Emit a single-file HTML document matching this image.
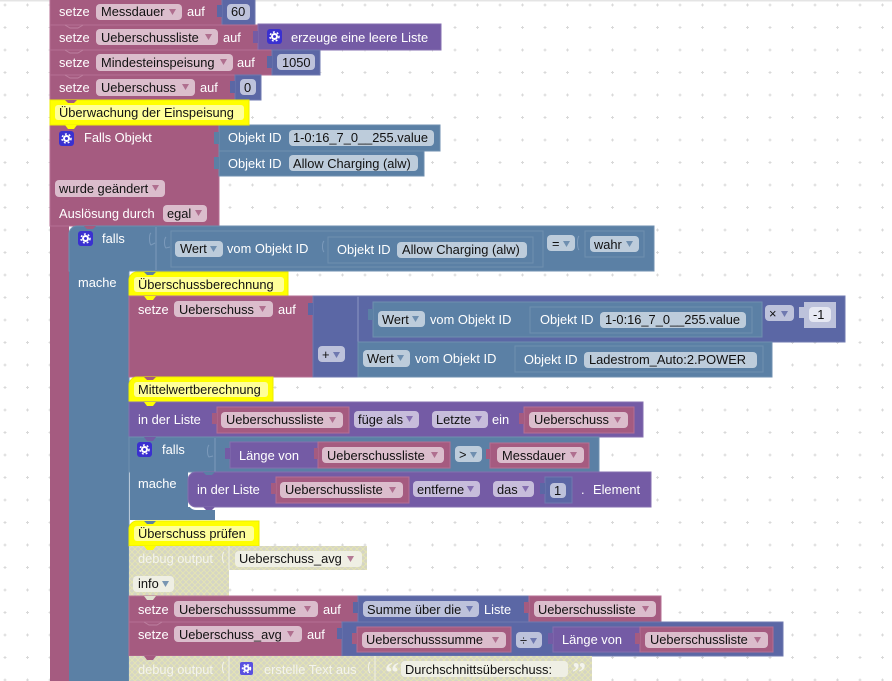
<!DOCTYPE html>
<html><head><meta charset="utf-8"><style>
html,body{margin:0;padding:0;background:#fff;overflow:hidden}
svg{display:block}
text{font-family:"Liberation Sans",sans-serif;font-size:12.85px;fill:#fff;white-space:pre}
text.k{fill:#111}
text.d{fill:#f4f4ec}
.m{fill:#a55b80}.b{fill:#5b80a5}.i{fill:#5b67a5}.p{fill:#745ba5}
.ms{fill:#a55b80;stroke:#b56f93;stroke-width:1}
.bs{fill:#5b80a5;stroke:#6f8fb0;stroke-width:1}
.is{fill:#5b67a5;stroke:#6f7ab0;stroke-width:1}
.ps{fill:#745ba5;stroke:#856fb0;stroke-width:1}
.y{fill:#ff0;stroke:#eeee00;stroke-width:1}
.fm{fill:#dbbdcc}.fb{fill:#bdccdb}.fi{fill:#bdc2db}.fp{fill:#c7bddb}.fy{fill:#ffff99}.fd{fill:#efefe4}
.am{fill:#a55b80;opacity:.8}.ab{fill:#5b80a5;opacity:.8}.ai{fill:#5b67a5;opacity:.8}.ap{fill:#745ba5;opacity:.8}
.n{fill:none;stroke-width:1}
.ring{fill:none;stroke:#fff;stroke-width:2}
.teeth{fill:none;stroke:#fff;stroke-width:1.5;stroke-dasharray:1.9 2}
</style></head><body>
<svg width="892" height="681" viewBox="0 0 892 681" xmlns="http://www.w3.org/2000/svg">
<defs>
<pattern id="g" width="22.5" height="22.5" patternUnits="userSpaceOnUse" x="-6" y="-6">
<path d="M11 9.500v3M9.500 11h3" stroke="#d9d9d9" stroke-width="1" fill="none"/>
</pattern>
<pattern id="h" width="6" height="6" patternUnits="userSpaceOnUse">
<rect width="6" height="6" fill="#d5d5c5"/>
<path d="M0 0L6 6M6 0L0 6" stroke="#e4e4b4" stroke-width="1"/>
</pattern>
</defs>
<rect width="892" height="681" fill="#fff"/>
<rect width="892" height="681" fill="url(#g)"/>
<rect width="892" height="1.5" fill="#e4e4e4"/>

<!-- outer stack -->
<rect class="m" x="50" y="125" width="19" height="556"/>
<rect class="b" x="69" y="234" width="60" height="447"/>
<path d="M129 271v410" stroke="#6f8fb0" fill="none"/>

<!-- row 1 -->
<rect class="ms" x="50" y="-2" width="172" height="27"/>
<rect class="is" x="222" y="-2" width="33" height="27"/>
<path class="i" d="M222 5h-5v12h5z"/>
<rect class="fm" x="96" y="4" width="86" height="16" rx="4"/><text class="k" x="101" y="16">Messdauer</text><path class="am" d="M169 9h7l-3.500 6z"/>
<text x="59" y="16">setze</text><text x="187" y="16">auf</text>
<rect class="fi" x="227" y="4" width="23" height="16" rx="4"/><text class="k" x="231" y="16">60</text>

<!-- row 2 -->
<rect class="ms" x="50" y="25" width="208" height="25"/>
<rect class="ps" x="258" y="24" width="183" height="26"/>
<path class="p" d="M258 31h-5v12h5z"/>
<path d="M65 25l5 3h8l5-3" stroke="#bd7f9f" class="n"/>
<rect class="fm" x="96" y="29" width="122" height="16" rx="4"/><text class="k" x="101" y="42">Ueberschussliste</text><path class="am" d="M205 34h7l-3.500 6z"/>
<text x="59" y="42">setze</text><text x="223" y="42">auf</text>
<rect x="267" y="29" width="15" height="15" rx="3" fill="#3a30d0"/><circle cx="274.500" cy="36.500" r="2.500" class="ring"/><circle cx="274.500" cy="36.500" r="4.500" class="teeth"/>
<text x="291" y="42">erzeuge eine leere Liste</text>

<!-- row 3 -->
<rect class="ms" x="50" y="50" width="222" height="25"/>
<rect class="is" x="272" y="50" width="48" height="25"/>
<path class="i" d="M272 56h-5v12h5z"/>
<path d="M65 50l5 3h8l5-3" stroke="#bd7f9f" class="n"/>
<rect class="fm" x="96" y="54" width="137" height="17" rx="4"/><text class="k" x="101" y="67">Mindesteinspeisung</text><path class="am" d="M220 59h7l-3.500 6z"/>
<text x="59" y="67">setze</text><text x="237" y="67">auf</text>
<rect class="fi" x="277" y="54" width="38" height="16" rx="4"/><text class="k" x="282" y="67">1050</text>

<!-- row 4 -->
<rect class="ms" x="50" y="75" width="185" height="25"/>
<rect class="is" x="235" y="75" width="26" height="25"/>
<path class="i" d="M235 81h-5v12h5z"/>
<path d="M65 75l5 3h8l5-3" stroke="#bd7f9f" class="n"/>
<rect class="fm" x="96" y="79" width="99" height="17" rx="4"/><text class="k" x="101" y="92">Ueberschuss</text><path class="am" d="M182 84h7l-3.500 6z"/>
<text x="59" y="92">setze</text><text x="200" y="92">auf</text>
<rect class="fi" x="240" y="79" width="16" height="16" rx="4"/><text class="k" x="244" y="92">0</text>

<!-- falls objekt -->
<rect class="ms" x="50" y="125" width="169" height="101"/>
<rect class="bs" x="219" y="125" width="221" height="26"/>
<rect class="bs" x="219" y="151" width="205" height="25"/>
<path class="b" d="M219 132h-5v12h5zM219 157h-5v12h5z"/>
<rect x="59" y="131" width="15" height="15" rx="3" fill="#3a30d0"/><circle cx="66.500" cy="138.500" r="2.500" class="ring"/><circle cx="66.500" cy="138.500" r="4.500" class="teeth"/>
<text x="84" y="142">Falls Objekt</text>
<text x="228" y="142">Objekt ID</text>
<rect class="fb" x="289" y="130" width="145" height="16" rx="4"/><text class="k" x="293" y="142">1-0:16_7_0__255.value</text>
<text x="228" y="168">Objekt ID</text>
<rect class="fb" x="289" y="155" width="129" height="16" rx="4"/><text class="k" x="293" y="168">Allow Charging (alw)</text>
<rect class="fm" x="55" y="180" width="110" height="17" rx="4"/><text class="k" x="59" y="193">wurde geändert</text><path class="am" d="M152 185h7l-3.500 6z"/>
<text x="59" y="218">Auslösung durch</text>
<rect class="fm" x="163" y="205" width="44" height="17" rx="4"/><text class="k" x="167" y="218">egal</text><path class="am" d="M195 210h7l-3.500 6z"/>

<!-- comment 1 -->
<rect class="y" x="50" y="100" width="199" height="25"/>
<path d="M65 125h12l-3 4h-6z" fill="#ff0"/>
<path d="M65 100l3 3h6l3-3z" fill="#a55b80"/>
<rect class="fy" x="55" y="105" width="189" height="15" rx="3"/><text class="k" x="59" y="117">Überwachung der Einspeisung</text>

<!-- falls 1 -->
<path class="bs" d="M69 234a8 8 0 0 1 8-8h577v45H69z"/>
<rect class="b" x="70" y="260" width="59" height="12"/>
<path d="M156 227v43" stroke="#7c9abb" fill="none"/>
<path d="M84 226l3 3h6l3-3z" fill="#a55b80"/>
<rect x="78" y="231" width="15" height="15" rx="3" fill="#3a30d0"/><circle cx="85.500" cy="238.500" r="2.500" class="ring"/><circle cx="85.500" cy="238.500" r="4.500" class="teeth"/>
<text x="102" y="243">falls</text>
<text x="78" y="287">mache</text>
<rect class="bs" x="171" y="231" width="372" height="36"/>
<rect class="bs" x="328" y="237" width="205" height="26"/>
<path d="M151 233c-2 1-2 10 0 12l4-2M166 237c-2 2-2 9 0 11l4-1M324 241c-2 2-2 9 0 11M579 236c-2 2-2 12 0 14" stroke="#7c9abb" class="n"/>
<rect class="fb" x="175" y="241" width="48" height="16" rx="4"/><text class="k" x="180" y="253">Wert</text><path class="ab" d="M210 246h7l-3.500 6z"/>
<text x="227" y="253">vom Objekt ID</text>
<text x="337" y="254">Objekt ID</text>
<rect class="fb" x="397" y="242" width="130" height="16" rx="4"/><text class="k" x="402" y="254">Allow Charging (alw)</text>
<rect class="fb" x="547" y="235" width="28" height="16" rx="4"/><text class="k" x="552" y="248">=</text><path class="ab" d="M563 241h7l-3.500 6z"/>
<rect class="bs" x="585" y="231" width="59" height="26"/>
<rect class="fb" x="590" y="236" width="49" height="16" rx="4"/><text class="k" x="594" y="249">wahr</text><path class="ab" d="M626 241h7l-3.500 6z"/>

<!-- comment 2 -->
<path class="y" d="M129 280a8 8 0 0 1 8-8h151v24h-159z"/>
<path d="M144 272l3 3h6l3-3z" fill="#5b80a5"/>
<path d="M144 296h12l-3 4h-6z" fill="#ff0"/>
<rect class="fy" x="134" y="277" width="150" height="15" rx="3"/><text class="k" x="138" y="289">Überschussberechnung</text>

<!-- setze Ueberschuss -->
<rect class="ms" x="129" y="296" width="184" height="81"/>
<path d="M144 296h12l-3 4h-6z" fill="#ff0"/>
<text x="138" y="314">setze</text>
<rect class="fm" x="174" y="301" width="99" height="16" rx="4"/><text class="k" x="179" y="314">Ueberschuss</text><path class="am" d="M259 306h7l-3.500 6z"/>
<text x="278" y="314">auf</text>
<rect class="is" x="313" y="296" width="532" height="46"/>
<rect class="is" x="313" y="296" width="45" height="81"/>
<rect class="i" x="314" y="297" width="60" height="45"/>
<path d="M358 297v45" stroke="#8d97c4" fill="none"/>
<path class="i" d="M313 303h-5v12h5z"/>
<rect class="bs" x="373" y="302" width="389" height="35"/>
<rect class="bs" x="530" y="307" width="222" height="26"/>
<path class="b" d="M373 309h-5v11h5z"/>
<rect class="fb" x="378" y="311" width="47" height="16" rx="4"/><text class="k" x="382" y="324">Wert</text><path class="ab" d="M412 316h7l-3.500 6z"/>
<text x="430" y="324">vom Objekt ID</text>
<text x="540" y="324">Objekt ID</text>
<rect class="fb" x="600" y="312" width="146" height="16" rx="4"/><text class="k" x="605" y="324">1-0:16_7_0__255.value</text>
<rect class="fi" x="765" y="305" width="29" height="16" rx="4"/><text class="k" x="769" y="318">×</text><path class="ai" d="M781 311h7l-3.500 6z"/>
<rect x="804" y="302" width="32" height="26" fill="#bdc2db"/>
<path d="M804 307h-5v11h5z" fill="#bdc2db"/>
<rect x="809" y="307" width="22" height="15" rx="4" fill="#e6e8f2"/><text class="k" x="813" y="319">-1</text>
<rect class="bs" x="358" y="342" width="414" height="35"/>
<rect class="bs" x="515" y="346" width="248" height="26"/>
<rect class="fi" x="318" y="346" width="27" height="16" rx="4"/><text class="k" x="322" y="359">+</text><path class="ai" d="M333 352h7l-3.500 6z"/>
<rect class="fb" x="363" y="350" width="47" height="17" rx="4"/><text class="k" x="367" y="363">Wert</text><path class="ab" d="M397 355h7l-3.500 6z"/>
<text x="415" y="363">vom Objekt ID</text>
<text x="524" y="364">Objekt ID</text>
<rect class="fb" x="584" y="352" width="173" height="16" rx="4"/><text class="k" x="589" y="364">Ladestrom_Auto:2.POWER</text>

<!-- comment 3 -->
<path class="y" d="M129 385a8 8 0 0 1 8-8h136v25h-144z"/>
<path d="M144 377l3 3h6l3-3z" fill="#a55b80"/>
<path d="M144 402h12l-3 4h-6z" fill="#ff0"/>
<rect class="fy" x="134" y="382" width="134" height="15" rx="3"/><text class="k" x="138" y="394">Mittelwertberechnung</text>

<!-- in der Liste -->
<rect class="ps" x="129" y="402" width="514" height="35"/>
<path d="M144 402h12l-3 4h-6z" fill="#ff0"/>
<text x="138" y="424">in der Liste</text>
<rect class="ms" x="217" y="407" width="132" height="26"/>
<path class="m" d="M217 413h-5v11h5z"/>
<rect class="fm" x="221" y="412" width="122" height="16" rx="4"/><text class="k" x="226" y="424">Ueberschussliste</text><path class="am" d="M329 417h7l-3.500 6z"/>
<rect class="fp" x="354" y="411" width="65" height="17" rx="4"/><text class="k" x="358" y="424">füge als</text><path class="ap" d="M406 416h7l-3.500 6z"/>
<rect class="fp" x="432" y="411" width="56" height="17" rx="4"/><text class="k" x="436" y="424">Letzte</text><path class="ap" d="M475 416h7l-3.500 6z"/>
<text x="492" y="424">ein</text>
<rect class="ms" x="524" y="407" width="110" height="26"/>
<path class="m" d="M524 413h-5v11h5z"/>
<rect class="fm" x="529" y="412" width="99" height="16" rx="4"/><text class="k" x="534" y="424">Ueberschuss</text><path class="am" d="M614 417h7l-3.500 6z"/>

<!-- falls 2 -->
<rect class="bs" x="129" y="437" width="470" height="35"/>
<rect class="b" x="130" y="438" width="58" height="82"/>
<rect class="b" x="188" y="507" width="27" height="13"/>
<path d="M188 500v2a8 8 0 0 0 8 8h19v-3h-19a8 8 0 0 1-8-7z" fill="#fff"/>
<path d="M215 438v34" stroke="#7c9abb" fill="none"/>
<path d="M144 437h12l-3 4h-6z" fill="#745ba5"/>
<rect x="137" y="442" width="15" height="15" rx="3" fill="#3a30d0"/><circle cx="144.500" cy="449.500" r="2.500" class="ring"/><circle cx="144.500" cy="449.500" r="4.500" class="teeth"/>
<text x="162" y="454">falls</text>
<text x="138" y="488">mache</text>
<path d="M209 445c-2 2-2 10 0 12l4-1" stroke="#7c9abb" class="n"/>
<rect class="ps" x="230" y="442" width="88" height="26"/>
<path class="p" d="M230 448h-5v11h5z"/>
<text x="239" y="460">Länge von</text>
<rect class="ms" x="318" y="442" width="132" height="26"/>
<path class="m" d="M318 448h-4v11h4z"/>
<rect class="fm" x="322" y="447" width="122" height="16" rx="4"/><text class="k" x="327" y="460">Ueberschussliste</text><path class="am" d="M431 452h7l-3.500 6z"/>
<rect class="fb" x="455" y="446" width="27" height="16" rx="4"/><text class="k" x="459" y="459">&gt;</text><path class="ab" d="M470 452h7l-3.500 6z"/>
<rect class="ms" x="490" y="443" width="99" height="25"/>
<path class="m" d="M490 449h-4v10h4z"/>
<rect class="fm" x="497" y="447" width="87" height="16" rx="4"/><text class="k" x="502" y="460">Messdauer</text><path class="am" d="M570 452h7l-3.500 6z"/>

<path class="ps" d="M188 480a8 8 0 0 1 8-8h455v35H196a8 8 0 0 1-8-8z"/>
<path d="M203 472l3 3h6l3-3z" fill="#5b80a5"/>
<path d="M203 507h12l-3 3h-6z" fill="#745ba5"/>
<text x="197" y="494">in der Liste</text>
<rect class="ms" x="276" y="477" width="133" height="26"/>
<path class="m" d="M276 483h-5v11h5z"/>
<rect class="fm" x="280" y="482" width="123" height="16" rx="4"/><text class="k" x="285" y="494">Ueberschussliste</text><path class="am" d="M389 487h7l-3.500 6z"/>
<rect class="fp" x="413" y="481" width="67" height="16" rx="4"/><text class="k" x="417" y="494">entferne</text><path class="ap" d="M467 486h7l-3.500 6z"/>
<rect class="fp" x="493" y="481" width="41" height="16" rx="4"/><text class="k" x="497" y="494">das</text><path class="ap" d="M522 486h7l-3.500 6z"/>
<rect class="is" x="545" y="477" width="27" height="26"/>
<path class="i" d="M545 483h-5v11h5z"/>
<rect class="fi" x="550" y="483" width="16" height="15" rx="4"/><text class="k" x="554" y="495">1</text>
<text x="581" y="494">.</text><text x="593" y="494">Element</text>

<!-- comment 4 -->
<path class="y" d="M129 529a8 8 0 0 1 8-8h122v25h-130z"/>
<path d="M144 521l3 3h6l3-3z" fill="#5b80a5"/>
<rect class="fy" x="134" y="526" width="120" height="15" rx="3"/><text class="k" x="138" y="538">Überschuss prüfen</text>

<!-- debug 1 -->
<rect x="129" y="546" width="100" height="50" fill="url(#h)"/>
<rect x="229" y="546" width="138" height="24" fill="url(#h)"/>
<path d="M144 546h12l-3 4h-6z" fill="#ff0"/>
<path d="M229 546v24" stroke="#f0f0e6" fill="none"/>
<path d="M224 552c-2 2-2 9 0 11" stroke="#f4f4ec" class="n"/>
<text class="d" x="138" y="563">debug output</text>
<rect class="fd" x="235" y="551" width="127" height="16" rx="4"/><text class="k" x="239" y="563">Ueberschuss_avg</text><path class="am" d="M347 556h7l-3.500 6z"/>
<rect class="fd" x="133" y="576" width="41" height="16" rx="4"/><text class="k" x="138" y="588">info</text><path class="ab" d="M162 581h7l-3.500 6z"/>

<!-- setze summe -->
<rect class="ms" x="129" y="596" width="229" height="26"/>
<path d="M144 596h12l-3 4h-6z" fill="#e0e0d0"/>
<text x="138" y="614">setze</text>
<rect class="fm" x="174" y="601" width="144" height="16" rx="4"/><text class="k" x="179" y="614">Ueberschusssumme</text><path class="am" d="M304 606h7l-3.500 6z"/>
<text x="323" y="614">auf</text>
<rect class="is" x="358" y="596" width="171" height="26"/>
<path class="i" d="M358 602h-5v11h5z"/>
<rect class="fi" x="363" y="601" width="116" height="16" rx="4"/><text class="k" x="367" y="614">Summe über die</text><path class="ai" d="M466 606h7l-3.500 6z"/>
<text x="484" y="614">Liste</text>
<rect class="ms" x="529" y="596" width="132" height="26"/>
<path class="m" d="M529 602h-5v11h5z"/>
<rect class="fm" x="534" y="601" width="122" height="16" rx="4"/><text class="k" x="538" y="614">Ueberschussliste</text><path class="am" d="M642 606h7l-3.500 6z"/>

<!-- setze avg -->
<rect class="ms" x="129" y="622" width="213" height="34"/>
<path d="M144 622l5 3h8l5-3" stroke="#bd7f9f" class="n"/>
<text x="138" y="639">setze</text>
<rect class="fm" x="174" y="626" width="128" height="16" rx="4"/><text class="k" x="179" y="639">Ueberschuss_avg</text><path class="am" d="M287 631h7l-3.500 6z"/>
<text x="307" y="639">auf</text>
<rect class="is" x="342" y="622" width="441" height="34"/>
<path class="i" d="M342 628h-5v11h5z"/>
<rect class="ms" x="357" y="627" width="154" height="25"/>
<path class="m" d="M357 633h-5v11h5z"/>
<rect class="fm" x="362" y="632" width="144" height="16" rx="4"/><text class="k" x="366" y="644">Ueberschusssumme</text><path class="am" d="M492 637h7l-3.500 6z"/>
<rect class="fi" x="516" y="632" width="26" height="16" rx="4"/><text class="k" x="520" y="645">÷</text><path class="ai" d="M530 638h7l-3.500 6z"/>
<rect class="ps" x="553" y="627" width="87" height="25"/>
<path class="p" d="M553 633h-5v11h5z"/>
<text x="562" y="644">Länge von</text>
<rect class="ms" x="640" y="627" width="133" height="25"/>
<path class="m" d="M640 633h-5v11h5z"/>
<rect class="fm" x="645" y="632" width="123" height="16" rx="4"/><text class="k" x="650" y="644">Ueberschussliste</text><path class="am" d="M754 637h7l-3.500 6z"/>

<!-- debug 2 -->
<rect x="129" y="656" width="463" height="25" fill="url(#h)"/>
<path d="M144 656h12l-3 4h-6z" fill="#a55b80"/>
<path d="M229 656v25M375 656v25" stroke="#f0f0e6" fill="none"/>
<path d="M224 662c-2 2-2 9 0 11M370 662c-2 2-2 9 0 11" stroke="#f4f4ec" class="n"/>
<text class="d" x="138" y="674">debug output</text>
<rect x="240" y="662" width="13" height="13" rx="2" fill="#5a50e0"/><circle cx="246.500" cy="668.500" r="2.200" class="ring"/><circle cx="246.500" cy="668.500" r="4" class="teeth"/>
<text class="d" x="264" y="674">erstelle Text aus</text>
<text class="d" x="385" y="682" style="font-size:28px;font-family:'Liberation Serif',serif;font-weight:bold">“</text>
<rect class="fd" x="401" y="661" width="167" height="16" rx="4"/><text class="k" x="405" y="674">Durchschnittsüberschuss:</text>
<text class="d" x="572" y="682" style="font-size:28px;font-family:'Liberation Serif',serif;font-weight:bold">”</text>
</svg>
</body></html>
